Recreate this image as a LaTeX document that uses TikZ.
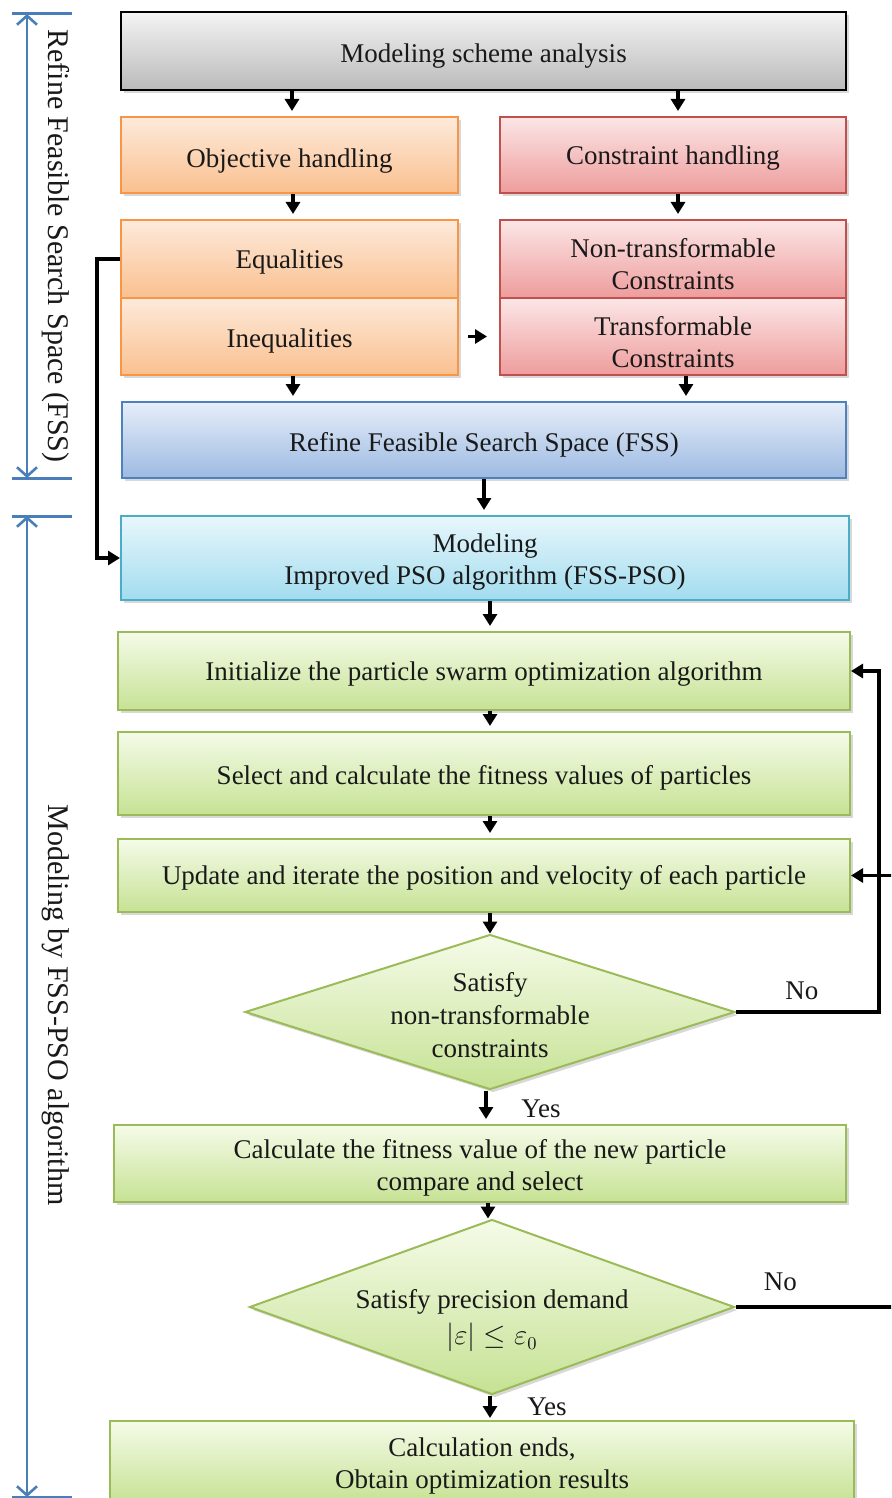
\documentclass[tikz,border=0pt]{standalone}
\usepackage{fontspec}
\setmainfont{Liberation Serif}
\usetikzlibrary{shapes.geometric,arrows.meta,shadows,calc}
\definecolor{grayT}{HTML}{F4F4F4}
\definecolor{grayB}{HTML}{BABABA}
\definecolor{orD}{HTML}{F79646}
\definecolor{orT}{HTML}{FDEADB}
\definecolor{orB}{HTML}{FAC08F}
\definecolor{rdD}{HTML}{C0504D}
\definecolor{rdT}{HTML}{FCE6E6}
\definecolor{rdB}{HTML}{EE9C9C}
\definecolor{blD}{HTML}{4F81BD}
\definecolor{blT}{HTML}{E6EEF9}
\definecolor{blB}{HTML}{9DBAE2}
\definecolor{cyD}{HTML}{4BACC6}
\definecolor{cyT}{HTML}{E8F7FC}
\definecolor{cyB}{HTML}{A2DCEF}
\definecolor{grD}{HTML}{9BBB59}
\definecolor{grT}{HTML}{F5FBE8}
\definecolor{grB}{HTML}{C6E294}
\definecolor{brk}{HTML}{4A7EBB}
\begin{document}
\begin{tikzpicture}[x=0.5pt,y=-0.5pt,
  txt/.style={font=\fontsize{13.5}{16}\selectfont, text=black!90},
  box/.style={rectangle, line width=1pt, inner sep=0pt, align=center, txt,
    execute at begin node={\rule{0pt}{12.3pt}},
    drop shadow={opacity=0.3,shadow xshift=1.5pt,shadow yshift=-1.5pt}},
  graybox/.style={box, draw=black, top color=grayT, bottom color=grayB},
  orbox/.style={box, draw=orD, top color=orT, bottom color=orB},
  rdbox/.style={box, draw=rdD, top color=rdT, bottom color=rdB},
  blbox/.style={box, draw=blD, top color=blT, bottom color=blB},
  cybox/.style={box, draw=cyD, top color=cyT, bottom color=cyB},
  grbox/.style={box, draw=grD, top color=grT, bottom color=grB},
  dia/.style={diamond, draw=grD, line width=1pt, inner sep=0pt, top color=grT, bottom color=grB,
    drop shadow={opacity=0.3,shadow xshift=1.5pt,shadow yshift=-1.5pt}},
  arr/.style={line width=1.6pt, -{Triangle[length=6pt,width=7pt]}, shorten >=2.5pt},
  loopline/.style={line width=1.6pt, -{Triangle[length=6pt,width=7pt]}},
  brkline/.style={draw=brk, line width=1.5pt},
  brkarrow/.style={draw=brk, line width=1.3pt, {Straight Barb[length=4.5pt,width=10pt]}-{Straight Barb[length=4.5pt,width=10pt]}},
  side/.style={font=\fontsize{15}{18}\selectfont, text=black!90, rotate=-90}
]
\clip (0,0) rectangle (891,1498);
\fill[white] (0,0) rectangle (891,1498);

% left brackets
\coordinate (b1t) at (27,14);
\coordinate (b1b) at (27,478);
\coordinate (b2t) at (27,516);
\coordinate (b2b) at (27,1497);
\draw[brkline] (12,14) -- (72,14);
\draw[brkline] (12,478) -- (72,478);
\draw[brkarrow] (b1t) -- (b1b);
\node[side] (lab1) at (56,246) {Refine Feasible Search Space (FSS)};
\draw[brkline] (12,516) -- (72,516);
\draw[brkline] (12,1497) -- (72,1497);
\draw[brkarrow] (b2t) -- (b2b);
\node[side] (lab2) at (56,1005) {Modeling by FSS-PSO algorithm};

% boxes
\node[graybox, minimum width=362.5pt, minimum height=39pt] (scheme) at (483.5,51) {\rule{0pt}{14.5pt}Modeling scheme analysis};
\node[orbox, minimum width=168.5pt, minimum height=38pt] (obj) at (289.5,155) {\rule{0pt}{15pt}Objective handling};
\node[rdbox, minimum width=173pt, minimum height=38pt] (cons) at (673,155) {Constraint handling};
\node[orbox, minimum width=168.5pt, minimum height=39pt] (eq) at (289.5,259) {Equalities};
\node[orbox, minimum width=168.5pt, minimum height=38.5pt] (ineq) at (289.5,336.5) {\rule{0pt}{14pt}Inequalities};
\node[rdbox, minimum width=173pt, minimum height=39pt] (ntc) at (673,259) {\rule{0pt}{14.8pt}Non-transformable\\Constraints};
\node[rdbox, minimum width=173pt, minimum height=38.5pt] (tc) at (673,336.5) {\rule{0pt}{15pt}Transformable\\Constraints};
\node[blbox, minimum width=362pt, minimum height=38pt] (fss) at (484,440) {\rule{0pt}{14pt}Refine Feasible Search Space (FSS)};
\node[cybox, minimum width=364pt, minimum height=42pt] (model) at (485,558) {\rule{0pt}{13.6pt}Modeling\\Improved PSO algorithm (FSS-PSO)};
\node[grbox, minimum width=366pt, minimum height=39pt] (init) at (484,671) {Initialize the particle swarm optimization algorithm};
\node[grbox, minimum width=366pt, minimum height=41.5pt] (sel) at (484,773.5) {\rule{0pt}{13.5pt}Select and calculate the fitness values of particles};
\node[grbox, minimum width=366pt, minimum height=36.5pt] (upd) at (484,875.5) {Update and iterate the position and velocity of each particle};
\node[dia, minimum width=245pt, minimum height=77.5pt] (d1) at (490,1012) {};
\node[txt, align=center, font=\fontsize{13.5}{16.5}\selectfont] (d1t) at (490,1015) {Satisfy\\non-transformable\\constraints};
\node[grbox, minimum width=366pt, minimum height=38.5pt] (calc) at (480,1163.5) {\rule{0pt}{13.5pt}Calculate the fitness value of the new particle\\compare and select};
\node[dia, minimum width=242.5pt, minimum height=87.5pt] (d2) at (492,1307) {};
\node[txt, align=center, font=\fontsize{13.5}{18}\selectfont] (d2t) at (492,1321) {Satisfy precision demand\\$|\varepsilon|\leq\varepsilon_{0}$};
\node[grbox, minimum width=372pt, minimum height=41pt] (fin) at (482,1462) {\rule{0pt}{13.2pt}Calculation ends,\\Obtain optimization results};

% connectors
\draw[arr] (scheme.south -| obj.north) ++(2.5,0) coordinate (s1) -- (s1 |- obj.north);
\draw[arr] (scheme.south -| cons.north) ++(5,0) coordinate (s2) -- (s2 |- cons.north);
\draw[arr] (obj.south) ++(3.5,0) coordinate (s3) -- (s3 |- eq.north);
\draw[arr] (cons.south) ++(5,0) coordinate (s4) -- (s4 |- ntc.north);
\draw[line width=1.6pt, -{Triangle[length=6pt,width=7pt]}, shorten <=4.5pt, shorten >=6pt] (ineq.east) -- (tc.west);
\draw[arr] (ineq.south) ++(3.5,0) coordinate (s5) -- (s5 |- fss.north);
\draw[arr] (tc.south) ++(13,0) coordinate (s6) -- (s6 |- fss.north);
\draw[arr] (fss.south) -- (model.north -| fss.south);
\draw[loopline] (eq.west) -- ++(-23,0) |- (model.west);
\draw[arr] (model.south -| d1.north) -- (init.north -| d1.north);
\draw[arr] (init.south -| d1.north) -- (sel.north -| d1.north);
\draw[arr] (sel.south -| d1.north) -- (upd.north -| d1.north);
\draw[arr, shorten >=0pt] (upd.south -| d1.north) -- (d1.north);
\draw[arr] (d1.south) ++(-4,0) coordinate (s7) -- node[txt, anchor=west, xshift=13.5pt, pos=0.55] {Yes} (s7 |- calc.north);
\draw[arr, shorten >=0pt] (calc.south) ++(8,0) coordinate (s8) -- (s8 |- d2.north);
\draw[arr, shorten >=1pt] (d2.south) ++(-2,0) coordinate (s9) -- node[txt, anchor=west, xshift=14.5pt, pos=0.45] {Yes} (s9 |- fin.north);
\draw[loopline] (d1.east) -- node[txt, above, pos=0.46, yshift=2pt] {No} ++(143,0) |- (init.east);
\draw[loopline] (d2.east) -- node[txt, above, pos=0.28, yshift=4pt] {No} ++(160,0) |- (upd.east);
\end{tikzpicture}
\end{document}
